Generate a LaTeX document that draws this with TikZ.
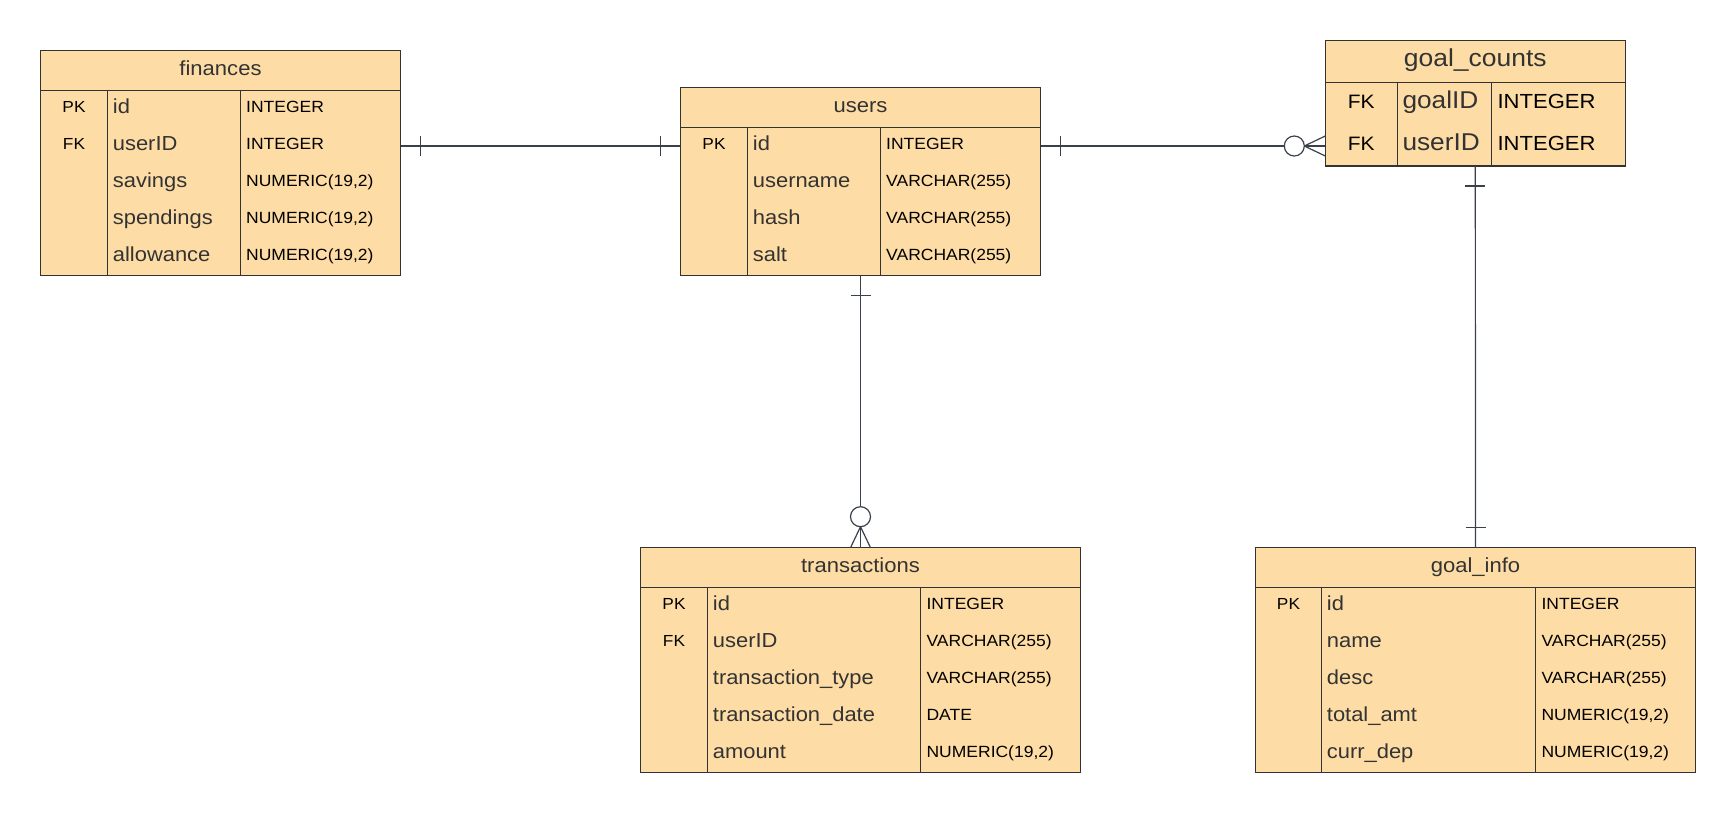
\documentclass[tikz,border=0pt]{standalone}
\usepackage{fontspec}
\setmainfont{Liberation Sans}[FakeStretch=1.08]
\usetikzlibrary{fit,calc}
\definecolor{tblbg}{RGB}{254,220,165}
\definecolor{tblline}{RGB}{51,51,51}
\definecolor{txtdark}{RGB}{51,51,51}
\definecolor{connc}{RGB}{58,65,75}
\tikzset{
  tblbox/.style={draw=tblline, fill=tblbg, line width=1.2pt, inner sep=0pt, outer sep=0pt},
  divider/.style={draw=tblline, line width=1.2pt},
  hdr/.style={font=\fontsize{20.4}{24}\selectfont, text=txtdark, anchor=base, inner sep=0pt},
  fname/.style={font=\fontsize{20.3}{24}\selectfont, text=txtdark, anchor=base west, inner sep=0pt},
  ftype/.style={font=\fontsize{16.2}{20}\selectfont, text=black, anchor=base west, inner sep=0pt},
  fkey/.style={font=\fontsize{16}{20}\selectfont, text=black, anchor=base, inner sep=0pt},
  conn/.style={draw=connc, line width=1.2pt},
  ring/.style={draw=connc, fill=white, line width=1.2pt},
}
% #1 id, #2 title, #3 x left, #4 x right, #5 y top, #6 y header bottom, #7 y bottom, #8 col1, #9 col2
\newcommand\ertable[9]{%
  \coordinate (#1-tl) at (#3,#5);
  \coordinate (#1-hr) at (#4,#6);
  \coordinate (#1-hl) at (#3,#6);
  \coordinate (#1-br) at (#4,#7);
  \node[tblbox, fit=(#1-tl)(#1-hr)] (#1-h) {};
  \node[tblbox, fit=(#1-hl)(#1-br)] (#1-b) {};
  \draw[divider] (#8,#6) -- (#8,#7);
  \draw[divider] (#9,#6) -- (#9,#7);
  \node[hdr] (#1-t) at ({(#3+#4)/2},{(#5+#6)/2+\hb}) {#2};
  \foreach \k/\n/\t [count=\i] in \rowlist {
    \pgfmathsetmacro\yc{#6+(\i-0.5)*\rowh}
    \coordinate (#1-r\i) at (#3,\yc);
    \node[fkey] (#1-k\i) at ({(#3+#8)/2},{\yc+\kb}) {\k};
    \node[fname] (#1-n\i) at ({#8+5},{\yc+\nb}) {\n};
    \node[ftype] (#1-y\i) at ({#9+5.7},{\yc+\tb}) {\t};
  }
}
\begin{document}
\begin{tikzpicture}[x=1pt,y=-1pt]
\useasboundingbox[fill=white] (0,0) rectangle (1735,812);

\def\hb{4.5}\def\nb{4.5}\def\tb{3.5}\def\kb{3.5}\def\rowh{37}
% finances
\def\rowlist{PK/id/INTEGER, FK/userID/INTEGER, /savings/{NUMERIC(19,2)}, /spendings/{NUMERIC(19,2)}, /allowance/{NUMERIC(19,2)}}
\ertable{fin}{finances}{40.3}{400.7}{50.3}{90.7}{275.7}{107.7}{240.3}
% users
\def\rowlist{PK/id/INTEGER, /username/{VARCHAR(255)}, /hash/{VARCHAR(255)}, /salt/{VARCHAR(255)}}
\ertable{usr}{users}{680.3}{1040.7}{87.7}{127.5}{275.5}{747.7}{880.3}
% transactions
\def\rowlist{PK/id/INTEGER, FK/userID/{VARCHAR(255)}, /transaction\_type/{VARCHAR(255)}, /transaction\_date/DATE, /amount/{NUMERIC(19,2)}}
\ertable{trn}{transactions}{640.3}{1080.7}{547.7}{587.7}{772.7}{707.7}{920.7}
% goal_info
\def\rowlist{PK/id/INTEGER, /name/{VARCHAR(255)}, /desc/{VARCHAR(255)}, /total\_amt/{NUMERIC(19,2)}, /curr\_dep/{NUMERIC(19,2)}}
\ertable{gin}{goal\_info}{1255.3}{1695.7}{547.7}{587.7}{772.7}{1321.7}{1535.7}
% goal_counts (larger type)
\begin{scope}[
  hdr/.append style={font=\fontsize{24.5}{28}\selectfont},
  fname/.append style={font=\fontsize{24.3}{28}\selectfont},
  ftype/.append style={font=\fontsize{20.4}{24}\selectfont},
  fkey/.append style={font=\fontsize{19.4}{24}\selectfont, text=black}]
\def\hb{5.4}\def\nb{5}\def\tb{5}\def\kb{5}\def\rowh{41.85}
\def\rowlist{FK/goalID/INTEGER, FK/userID/INTEGER}
\ertable{gc}{goal\_counts}{1325.3}{1625.3}{40.3}{82.3}{166}{1397.3}{1491.7}
\end{scope}

% ---- connectors ----
% finances -- users (one to one)
\coordinate (c1a) at (fin-b.east |- usr-r1);
\coordinate (c1b) at (usr-b.west |- usr-r1);
\draw[conn] (c1a) -- (c1b);
\draw[conn] ($(c1a)+(20,-10)$) -- ($(c1a)+(20,10)$);
\draw[conn] ($(c1b)+(-20,-10)$) -- ($(c1b)+(-20,10)$);

% users -- goal_counts (one to zero-or-many)
\coordinate (c2a) at (usr-b.east |- usr-r1);
\coordinate (c2b) at (gc-b.west |- usr-r1);
\draw[conn] (c2a) -- (c2b);
\draw[conn] ($(c2a)+(20,-10)$) -- ($(c2a)+(20,10)$);
\draw[conn] ($(c2b)+(-21,0)$) -- ($(c2b)+(0,-10)$);
\draw[conn] ($(c2b)+(-21,0)$) -- ($(c2b)+(0,10)$);
\draw[ring] ($(c2b)+(-31,0)$) circle[radius=10];

% users -- transactions (one to zero-or-many)
\coordinate (c3a) at (usr-b.south);
\coordinate (c3b) at (trn-h.north);
\draw[conn] (c3a) -- (c3b);
\draw[conn] ($(c3a)+(-10,20)$) -- ($(c3a)+(10,20)$);
\draw[conn] ($(c3b)+(0,-21)$) -- ($(c3b)+(-10,0)$);
\draw[conn] ($(c3b)+(0,-21)$) -- ($(c3b)+(10,0)$);
\draw[ring] ($(c3b)+(0,-31)$) circle[radius=10];

% goal_counts -- goal_info (one to one)
\coordinate (c4a) at (gc-b.south);
\coordinate (c4b) at (gin-h.north);
\draw[conn] (c4a) -- (c4b);
\draw[conn] ($(c4a)+(-10,20)$) -- ($(c4a)+(10,20)$);
\draw[conn] ($(c4b)+(-10,-20)$) -- ($(c4b)+(10,-20)$);
\end{tikzpicture}
\end{document}
